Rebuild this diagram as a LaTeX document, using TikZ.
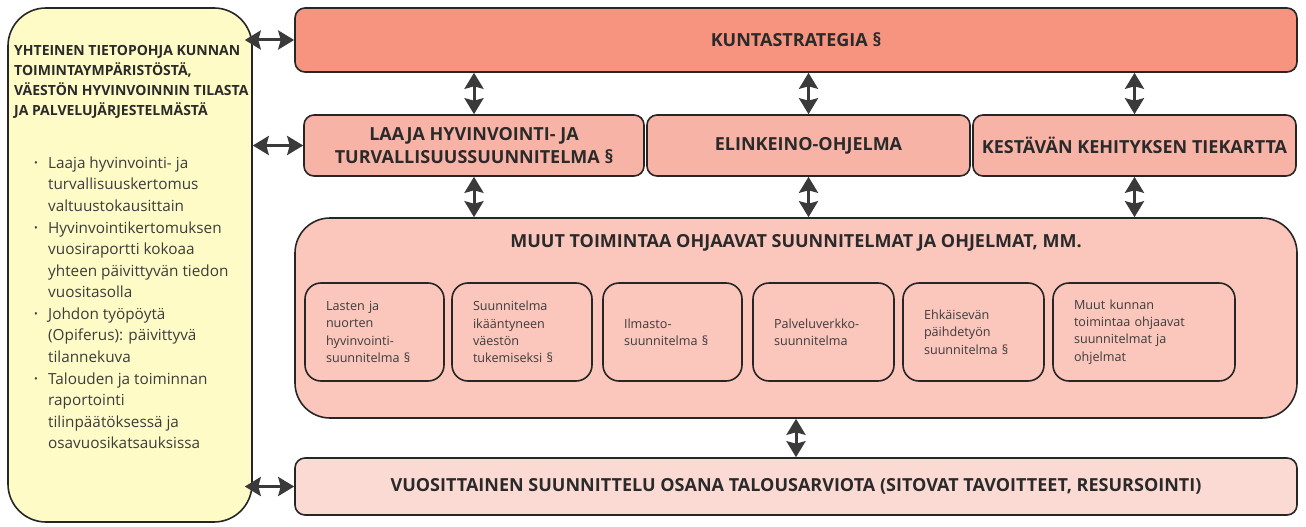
\documentclass[tikz,border=0pt]{standalone}
\usepackage{fontspec}
\setmainfont{Open Sans}
\usetikzlibrary{arrows.meta}

\definecolor{kuntafill}{HTML}{F69480}
\definecolor{midfill}{HTML}{F8B3A7}
\definecolor{muutfill}{HTML}{FBC6BC}
\definecolor{vuosifill}{HTML}{FBDAD4}
\definecolor{tietofill}{HTML}{FEFBC7}
\definecolor{linegray}{HTML}{262626}
\definecolor{arrowgray}{HTML}{3A3A3A}
\definecolor{textgray}{HTML}{2A2A2A}
\definecolor{smallgray}{HTML}{3C3C3C}

\tikzset{
  plan/.style={draw=linegray, line width=1.6pt, rounded corners=10pt, text=textgray,
    font=\bfseries\fontsize{18}{23.3}\selectfont, align=center},
  subplan/.style={draw=linegray, line width=1.6pt, rounded corners=16pt, fill=muutfill,
    minimum height=98pt, inner xsep=21pt, align=left, text=smallgray,
    font=\fontsize{12.6}{17.3}\selectfont},
  biarrow/.style={{Stealth[inset=2.5pt,length=16pt,width=19pt]}-{Stealth[inset=2.5pt,length=16pt,width=19pt]},
    line width=3pt, draw=arrowgray},
  bullettext/.style={anchor=base west, inner sep=0pt, align=left, text=smallgray,
    font=\fontsize{15.3}{21.6}\selectfont},
  dot/.style={anchor=base, inner sep=0pt, text=smallgray, font=\fontsize{10}{12}\selectfont}
}

\begin{document}
\begin{tikzpicture}[x=1pt, y=-1pt]
\useasboundingbox (0,0) rectangle (1306,527);

% tietopohja (base = viimeisen rivin perusviiva)
\node (tieto) at (130, 265) [draw=linegray, line width=1.6pt, fill=tietofill, rounded corners=38pt,
  minimum width=244pt, minimum height=514pt] {};
\node (otsikko) at (14, 115) [anchor=base west, inner sep=0pt, align=left, text=textgray,
  font=\bfseries\fontsize{14}{19.7}\selectfont]
  {YHTEINEN TIETOPOHJA KUNNAN\\TOIMINTAYMPÄRISTÖSTÄ,\\VÄESTÖN HYVINVOINNIN TILASTA\\JA PALVELUJÄRJESTELMÄSTÄ};

\node (b1) at (36, 166) [dot] {•};
\node (t1) at (48, 211.2) [bullettext] {Laaja hyvinvointi- ja\\turvallisuuskertomus\\valtuustokausittain};
\node (b2) at (36, 231) [dot] {•};
\node (t2) at (48, 297.8) [bullettext] {Hyvinvointikertomuksen\\vuosiraportti kokoaa\\yhteen päivittyvän tiedon\\vuositasolla};
\node (b3) at (36, 317) [dot] {•};
\node (t3) at (48, 362.2) [bullettext] {Johdon työpöytä\\(Opiferus): päivittyvä\\tilannekuva};
\node (b4) at (36, 382) [dot] {•};
\node (t4) at (48, 448.8) [bullettext] {Talouden ja toiminnan\\raportointi\\tilinpäätöksessä ja\\osavuosikatsauksissa};

% suunnitelmat
\node (kunta) at (796, 40) [plan, fill=kuntafill, minimum width=1002pt, minimum height=64pt] {KUNTASTRATEGIA §};
\node (laaja) at (474, 145.5) [plan, fill=midfill, minimum width=340pt, minimum height=61pt] {LAAJA HYVINVOINTI- JA\\TURVALLISUUSSUUNNITELMA §};
\node (elinkeino) at (808.5, 145.5) [plan, fill=midfill, minimum width=323pt, minimum height=61pt] {ELINKEINO-OHJELMA};
\node (kestava) at (1134.5, 145.5) [plan, fill=midfill, minimum width=323pt, minimum height=61pt] {KESTÄVÄN KEHITYKSEN TIEKARTTA};
\node (muut) at (796, 318) [plan, fill=muutfill, rounded corners=35pt, minimum width=1002pt, minimum height=200pt] {};
\node (muutotsikko) at (796, 243) [text=textgray, font=\bfseries\fontsize{18}{23}\selectfont] {MUUT TOIMINTAA OHJAAVAT SUUNNITELMAT JA OHJELMAT, MM.};
\node (vuosi) at (796, 486.5) [plan, fill=vuosifill, minimum width=1002pt, minimum height=57pt] {VUOSITTAINEN SUUNNITTELU OSANA TALOUSARVIOTA (SITOVAT TAVOITTEET, RESURSOINTI)};

\node (lapset) at (374.5, 332) [subplan, text width=97pt] {Lasten ja\\nuorten\\hyvinvointi-\\suunnitelma §};
\node (ikaantyneet) at (522, 332) [subplan, text width=98pt] {Suunnitelma\\ikääntyneen\\väestön\\tukemiseksi §};
\node (ilmasto) at (672.5, 332) [subplan, text width=97pt] {Ilmasto-\\suunnitelma §};
\node (palveluverkko) at (823.5, 332) [subplan, text width=99pt] {Palveluverkko-\\suunnitelma};
\node (paihde) at (973.5, 332) [subplan, text width=99pt] {Ehkäisevän\\päihdetyön\\suunnitelma §};
\node (muutkunta) at (1144, 332) [subplan, text width=140pt] {Muut kunnan\\toimintaa ohjaavat\\suunnitelmat ja\\ohjelmat};

% nuolet
\draw[biarrow, shorten <=-8pt] (tieto.east |- kunta.west) -- (kunta.west);
\draw[biarrow] (tieto.east |- laaja.west) -- (laaja.west);
\draw[biarrow, shorten <=-8pt] (tieto.east |- vuosi.west) -- (vuosi.west);

\draw[biarrow] (kunta.south -| laaja.north) -- (laaja.north);
\draw[biarrow] (kunta.south -| elinkeino.north) -- (elinkeino.north);
\draw[biarrow] (kunta.south -| kestava.north) -- (kestava.north);
\draw[biarrow] (laaja.south) -- (muut.north -| laaja.south);
\draw[biarrow] (elinkeino.south) -- (muut.north -| elinkeino.south);
\draw[biarrow] (kestava.south) -- (muut.north -| kestava.south);
\draw[biarrow] (muut.south) -- (vuosi.north);
\end{tikzpicture}
\end{document}
